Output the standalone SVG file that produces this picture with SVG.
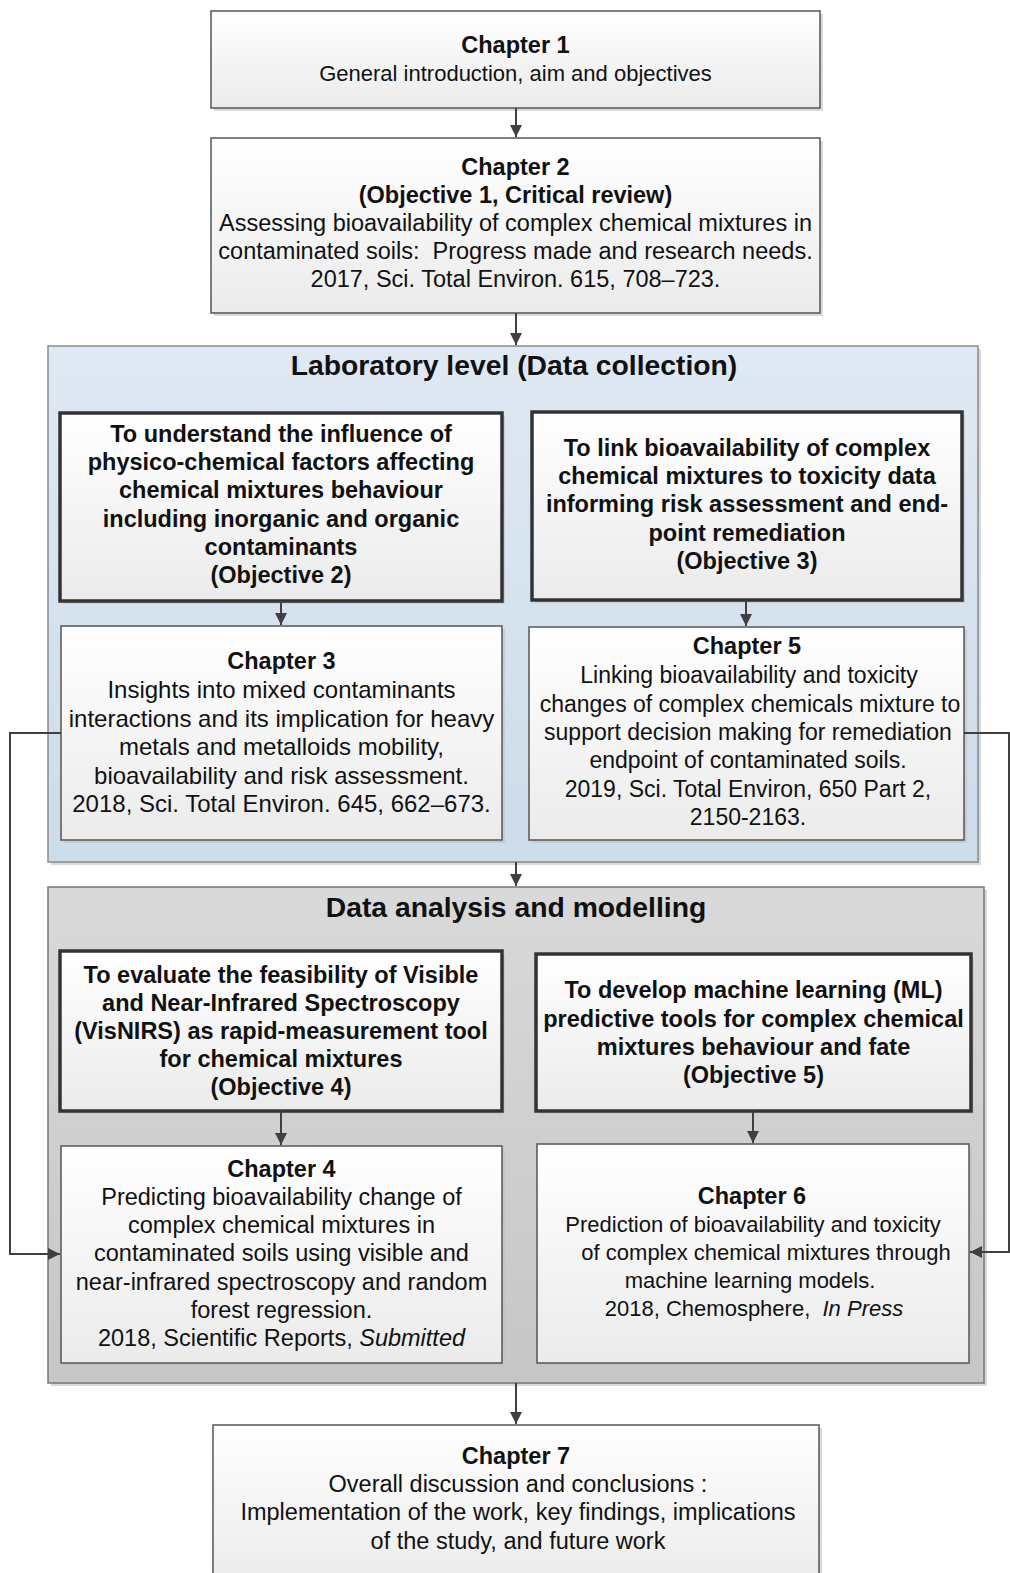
<svg xmlns="http://www.w3.org/2000/svg" width="1010" height="1573" viewBox="0 0 1010 1573">
<defs>
<linearGradient id="gBox" x1="0" y1="0" x2="0" y2="1"><stop offset="0" stop-color="#ffffff"/><stop offset="1" stop-color="#ebebeb"/></linearGradient>
<linearGradient id="gBlue" x1="0" y1="0" x2="0" y2="1"><stop offset="0" stop-color="#dfe9f3"/><stop offset="1" stop-color="#cddce9"/></linearGradient>
<linearGradient id="gGrey" x1="0" y1="0" x2="0" y2="1"><stop offset="0" stop-color="#d9d9d9"/><stop offset="1" stop-color="#c6c6c6"/></linearGradient>
<marker id="arr" viewBox="0 0 12 12" refX="12" refY="6" markerWidth="12" markerHeight="12" markerUnits="userSpaceOnUse" orient="auto"><path d="M0,0 L12,6 L0,12 z" fill="#404040"/></marker>
</defs>
<style>
.box{fill:url(#gBox);stroke:#555;stroke-width:1.5}
.obj{fill:url(#gBox);stroke:#333;stroke-width:3.5}
.sh{fill:#c0c0c0;opacity:0.6}
.blue{fill:url(#gBlue);stroke:#8a8a8a;stroke-width:1.5}
.grey{fill:url(#gGrey);stroke:#777;stroke-width:1.5}
text{font-family:"Liberation Sans",Arial,sans-serif;fill:#111;text-anchor:middle}
.r{font-size:23.5px}
.b{font-size:23.5px;font-weight:bold}
.h{font-size:28.3px;font-weight:bold}
.i{font-style:italic}
.c{fill:none;stroke:#404040;stroke-width:2;marker-end:url(#arr)}
</style>

<g id="ch1">
<rect class="sh" x="214" y="14" width="609" height="97"/>
<rect class="box" x="211" y="11" width="609" height="97"/>
<text class="b" x="515.5" y="53">Chapter 1</text>
<text class="r" x="515.5" y="81" style="font-size:22px">General introduction, aim and objectives</text>
</g>

<g id="ch2">
<rect class="sh" x="214" y="141" width="609" height="175"/>
<rect class="box" x="211" y="138" width="609" height="175"/>
<text class="b" x="515.5" y="175">Chapter 2</text>
<text class="b" x="515.5" y="203">(Objective 1, Critical review)</text>
<text class="r" x="515.5" y="231">Assessing bioavailability of complex chemical mixtures in</text>
<text class="r" x="515.5" y="259" xml:space="preserve">contaminated soils:  Progress made and research needs.</text>
<text class="r" x="515.5" y="287">2017, Sci. Total Environ. 615, 708–723.</text>
</g>

<g id="lab">
<rect class="sh" x="51" y="349" width="930" height="516"/>
<rect class="blue" x="48" y="346" width="930" height="516"/>
<text class="h" x="514" y="375">Laboratory level (Data collection)</text>
</g>

<g id="obj2">
<rect class="sh" x="63" y="416" width="442" height="188"/>
<rect class="obj" x="60" y="413" width="442" height="188"/>
<text class="b" x="281" y="442">To understand the influence of</text>
<text class="b" x="281" y="470">physico-chemical factors affecting</text>
<text class="b" x="281" y="498">chemical mixtures behaviour</text>
<text class="b" x="281" y="527">including inorganic and organic</text>
<text class="b" x="281" y="555">contaminants</text>
<text class="b" x="281" y="583">(Objective 2)</text>
</g>

<g id="obj3">
<rect class="sh" x="535" y="415" width="430" height="188"/>
<rect class="obj" x="532" y="412" width="430" height="188"/>
<text class="b" x="747" y="456">To link bioavailability of complex</text>
<text class="b" x="747" y="484">chemical mixtures to toxicity data</text>
<text class="b" x="747" y="512">informing risk assessment and end-</text>
<text class="b" x="747" y="541">point remediation</text>
<text class="b" x="747" y="569">(Objective 3)</text>
</g>

<g id="ch3">
<rect class="sh" x="64" y="629" width="441" height="214"/>
<rect class="box" x="61" y="626" width="441" height="214"/>
<text class="b" x="281.5" y="669">Chapter 3</text>
<text class="r" x="281.5" y="698" style="font-size:24px">Insights into mixed contaminants</text>
<text class="r" x="281.5" y="727" style="font-size:24px">interactions and its implication for heavy</text>
<text class="r" x="281.5" y="755" style="font-size:24px">metals and metalloids mobility,</text>
<text class="r" x="281.5" y="784" style="font-size:24px">bioavailability and risk assessment.</text>
<text class="r" x="281.5" y="812" style="font-size:24px">2018, Sci. Total Environ. 645, 662–673.</text>
</g>

<g id="ch5">
<rect class="sh" x="532" y="630" width="435" height="213"/>
<rect class="box" x="529" y="627" width="435" height="213"/>
<text class="b" x="747" y="654">Chapter 5</text>
<text class="r" x="749" y="683" style="font-size:23px">Linking bioavailability and toxicity</text>
<text class="r" x="750" y="712" style="font-size:23px">changes of complex chemicals mixture to</text>
<text class="r" x="748" y="740" style="font-size:23px">support decision making for remediation</text>
<text class="r" x="748" y="768" style="font-size:23px">endpoint of contaminated soils.</text>
<text class="r" x="748" y="797" style="font-size:23px">2019, Sci. Total Environ, 650 Part 2,</text>
<text class="r" x="748" y="825" style="font-size:23px">2150-2163.</text>
</g>

<g id="data">
<rect class="sh" x="51" y="890" width="936" height="496"/>
<rect class="grey" x="48" y="887" width="936" height="496"/>
<text class="h" x="516" y="917">Data analysis and modelling</text>
</g>

<g id="obj4">
<rect class="sh" x="63" y="954" width="442" height="160"/>
<rect class="obj" x="60" y="951" width="442" height="160"/>
<text class="b" x="281" y="983">To evaluate the feasibility of Visible</text>
<text class="b" x="281" y="1011">and Near-Infrared Spectroscopy</text>
<text class="b" x="281" y="1039">(VisNIRS) as rapid-measurement tool</text>
<text class="b" x="281" y="1067">for chemical mixtures</text>
<text class="b" x="281" y="1095">(Objective 4)</text>
</g>

<g id="obj5">
<rect class="sh" x="539" y="957" width="435" height="157"/>
<rect class="obj" x="536" y="954" width="435" height="157"/>
<text class="b" x="753.5" y="998">To develop machine learning (ML)</text>
<text class="b" x="753.5" y="1027">predictive tools for complex chemical</text>
<text class="b" x="753.5" y="1055">mixtures behaviour and fate</text>
<text class="b" x="753.5" y="1083">(Objective 5)</text>
</g>

<g id="ch4">
<rect class="sh" x="64" y="1149" width="441" height="217"/>
<rect class="box" x="61" y="1146" width="441" height="217"/>
<text class="b" x="281.5" y="1177">Chapter 4</text>
<text class="r" x="281.5" y="1205">Predicting bioavailability change of</text>
<text class="r" x="281.5" y="1233">complex chemical mixtures in</text>
<text class="r" x="281.5" y="1261">contaminated soils using visible and</text>
<text class="r" x="281.5" y="1290">near-infrared spectroscopy and random</text>
<text class="r" x="281.5" y="1318">forest regression.</text>
<text class="r" x="281.5" y="1346">2018, Scientific Reports, <tspan class="i">Submitted</tspan></text>
</g>

<g id="ch6">
<rect class="sh" x="540" y="1147" width="432" height="219"/>
<rect class="box" x="537" y="1144" width="432" height="219"/>
<text class="b" x="752" y="1204">Chapter 6</text>
<text class="r" x="753" y="1232" style="font-size:22px">Prediction of bioavailability and toxicity</text>
<text class="r" x="766" y="1260" style="font-size:22px">of complex chemical mixtures through</text>
<text class="r" x="750" y="1288" style="font-size:22px">machine learning models.</text>
<text class="r" x="754" y="1316" style="font-size:22px" xml:space="preserve">2018, Chemosphere,  <tspan class="i">In Press</tspan></text>
</g>

<g id="ch7">
<rect class="sh" x="216" y="1428" width="606" height="160"/>
<rect class="box" x="213" y="1425" width="606" height="160"/>
<text class="b" x="516" y="1464">Chapter 7</text>
<text class="r" x="518" y="1492">Overall discussion and conclusions :</text>
<text class="r" x="518" y="1520">Implementation of the work, key findings, implications</text>
<text class="r" x="518" y="1549">of the study, and future work</text>
</g>

<g id="connectors">
<path class="c" d="M516,108 L516,137"/>
<path class="c" d="M516,313 L516,345"/>
<path class="c" d="M281,601 L281,625"/>
<path class="c" d="M746,600 L746,626"/>
<path class="c" d="M516,862 L516,886"/>
<path class="c" d="M281,1111 L281,1145"/>
<path class="c" d="M753,1111 L753,1143"/>
<path class="c" d="M516,1383 L516,1424"/>
<path class="c" d="M61,733 L10,733 L10,1254 L60,1254"/>
<path class="c" d="M964,733 L1009,733 L1009,1252 L970,1252"/>
</g>
</svg>
